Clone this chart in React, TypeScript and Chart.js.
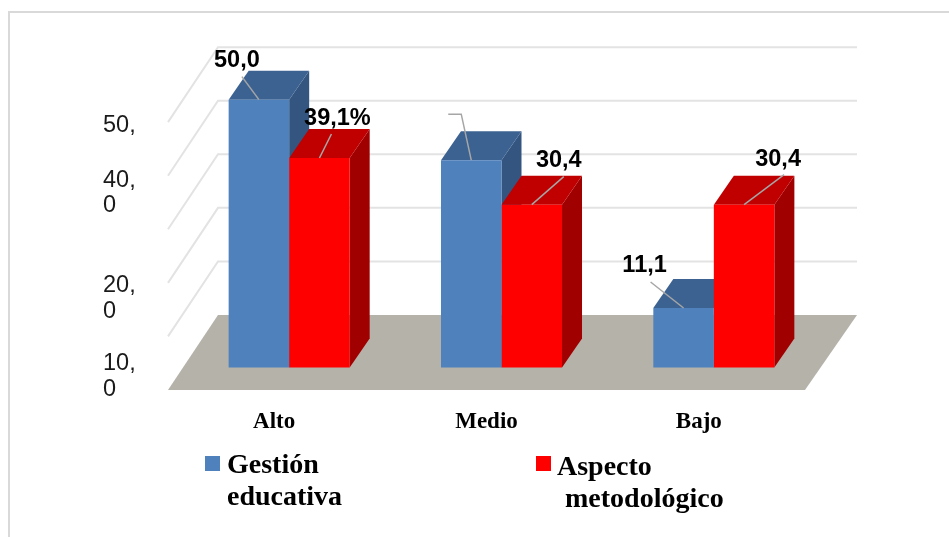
import React, { useEffect, useRef } from "react";
import { Chart, registerables } from "chart.js";

Chart.register(...registerables);

const categories = ["Alto", "Medio", "Bajo"];
const gestionLabel = "Gestión educativa";
const aspectoLabel = "Aspecto metodológico";
const gestionValues = [50.0, 38.7, 11.1];
const aspectoValues = [39.1, 30.4, 30.4];
const gestionText = ["50,0", "", "11,1"];
const aspectoText = ["39,1%", "30,4", "30,4"];
const gridValues = [10, 20, 30, 40, 50];
const tickValues = [45.1, 32.6, 12.9, -1.7];
const tickLabels = [["50,"], ["40,", "0"], ["20,", "0"], ["10,", "0"]];

const SANS = '"Liberation Sans", Arial, sans-serif';
const SERIF = '"Liberation Serif", "Times New Roman", serif';
const DEPTH_X = 20;
const DEPTH_Y = 29;
const FACES = [
  { top: "#3C6291", side: "#345580" },
  { top: "#C00000", side: "#A00000" },
];
// label centre and leader start relative to the bar's top-centre point
const LABEL_LAYOUT = [
  [
    { tx: -22, ty: -39, pts: [[-17, -23]] },
    { tx: 0, ty: 0, pts: [[-23, -46], [-10, -46]] },
    { tx: -39, ty: -43, pts: [[-33, -26]] },
  ],
  [
    { tx: 18, ty: -40, pts: [[12, -24]] },
    { tx: 27, ty: -44, pts: [[32, -28]] },
    { tx: 34, ty: -45, pts: [[40, -30]] },
  ],
];

const path = (ctx: CanvasRenderingContext2D, pts: number[][], color: string) => {
  ctx.beginPath();
  pts.forEach(([x, y], i) => (i ? ctx.lineTo(x, y) : ctx.moveTo(x, y)));
  ctx.closePath();
  ctx.fillStyle = color;
  ctx.fill();
};

const scenePlugin = {
  id: "scene",
  beforeDraw(chart: any) {
    const { ctx } = chart;
    ctx.save();
    ctx.strokeStyle = "#D9D9D9";
    ctx.lineWidth = 2;
    ctx.strokeRect(9, 12, 1200, 1200);
    ctx.restore();
  },
  beforeDatasetsDraw(chart: any) {
    const { ctx, chartArea, scales } = chart;
    const y = scales.y;
    const frontL = chartArea.left - 15;
    const frontR = chartArea.right - 15;
    const frontY = chartArea.bottom;
    const backShiftX = 50;
    const backShiftY = 75;
    ctx.save();
    ctx.strokeStyle = "#E3E3E3";
    ctx.lineWidth = 2;
    gridValues.forEach((v) => {
      const yFront = y.getPixelForValue(v) + 22.5;
      const yBack = yFront - backShiftY;
      ctx.beginPath();
      ctx.moveTo(frontL, yFront);
      ctx.lineTo(frontL + backShiftX, yBack);
      ctx.lineTo(frontR + backShiftX + 2, yBack);
      ctx.stroke();
    });
    path(
      ctx,
      [
        [frontL, frontY],
        [frontR, frontY],
        [frontR + backShiftX + 2, frontY - backShiftY],
        [frontL + backShiftX, frontY - backShiftY],
      ],
      "#B5B2AA"
    );
    // side and top faces of each bar, blue first so that red overlaps it
    chart.data.datasets.forEach((_: any, d: number) => {
      chart.getDatasetMeta(d).data.forEach((bar: any) => {
        const l = bar.x - bar.width / 2;
        const r = bar.x + bar.width / 2;
        const t = bar.y;
        const b = bar.base;
        path(ctx, [[r, t], [r + DEPTH_X, t - DEPTH_Y], [r + DEPTH_X, b - DEPTH_Y], [r, b]], FACES[d].side);
        path(ctx, [[l, t], [r, t], [r + DEPTH_X, t - DEPTH_Y], [l + DEPTH_X, t - DEPTH_Y]], FACES[d].top);
      });
    });
    ctx.restore();
  },
  afterDatasetsDraw(chart: any) {
    const { ctx } = chart;
    const texts = [gestionText, aspectoText];
    ctx.save();
    chart.data.datasets.forEach((_: any, d: number) => {
      chart.getDatasetMeta(d).data.forEach((bar: any, i: number) => {
        const lay = LABEL_LAYOUT[d][i];
        ctx.strokeStyle = "#A6A6A6";
        ctx.lineWidth = 1.5;
        ctx.beginPath();
        ctx.moveTo(bar.x, bar.y);
        [...lay.pts].reverse().forEach(([dx, dy]) => ctx.lineTo(bar.x + dx, bar.y + dy));
        ctx.stroke();
        if (texts[d][i]) {
          ctx.fillStyle = "#000";
          ctx.font = `bold 23.5px ${SANS}`;
          ctx.textAlign = "center";
          ctx.textBaseline = "middle";
          ctx.fillText(texts[d][i], bar.x + lay.tx, bar.y + lay.ty);
        }
      });
    });
    // legend
    const items = [
      { box: [205, 456], text: [227, 473], indent: 0 },
      { box: [536, 456], text: [557, 475], indent: 8 },
    ];
    chart.data.datasets.forEach((ds: any, d: number) => {
      const it = items[d];
      ctx.fillStyle = ds.backgroundColor;
      ctx.fillRect(it.box[0], it.box[1], 15, 15);
      ctx.fillStyle = "#000";
      ctx.font = `bold 28px ${SERIF}`;
      ctx.textAlign = "left";
      ctx.textBaseline = "alphabetic";
      const [first, second] = ds.label.split(" ");
      ctx.fillText(first, it.text[0], it.text[1]);
      ctx.fillText(second, it.text[0] + it.indent, it.text[1] + 32);
    });
    ctx.restore();
  },
};

export default function App() {
  const ref = useRef<HTMLCanvasElement>(null);
  useEffect(() => {
    const chart = new Chart(ref.current!, {
      type: "bar",
      data: {
        labels: categories,
        datasets: [
          { label: gestionLabel, data: gestionValues, backgroundColor: "#4F81BD", categoryPercentage: 0.57, barPercentage: 1 },
          { label: aspectoLabel, data: aspectoValues, backgroundColor: "#FF0000", categoryPercentage: 0.57, barPercentage: 1 },
        ],
      },
      options: {
        animation: false,
        responsive: false,
        layout: { padding: { left: 103, right: 129, top: 14.5, bottom: 0 } },
        plugins: { legend: { display: false }, tooltip: { enabled: false }, title: { display: false } },
        scales: {
          x: {
            grid: { display: false, drawTicks: false },
            border: { display: false },
            afterFit: (s: any) => {
              s.height = 147;
            },
            ticks: {
              padding: 18,
              labelOffset: -15,
              maxRotation: 0,
              color: "#000",
              font: { family: SERIF, size: 23, weight: "bold" },
            },
          },
          y: {
            min: -4.2,
            max: 63.3,
            grid: { display: false, drawTicks: false },
            border: { display: false },
            afterFit: (s: any) => {
              s.width = 80;
            },
            afterBuildTicks: (s: any) => {
              s.ticks = tickValues.map((value) => ({ value }));
            },
            ticks: {
              autoSkip: false,
              crossAlign: "far",
              color: "#1A1A1A",
              font: { family: SANS, size: 23.5, lineHeight: 1.08 },
              callback: (v: any) => tickLabels[tickValues.indexOf(v)] ?? "",
            },
          },
        },
      },
      plugins: [scenePlugin],
    } as any);
    return () => chart.destroy();
  }, []);
  return (
    <div style={{ position: "absolute", left: 0, top: 0, width: 949, height: 537, background: "#fff", overflow: "hidden" }}>
      <canvas ref={ref} width={949} height={537} style={{ display: "block", width: 949, height: 537 }} />
    </div>
  );
}
